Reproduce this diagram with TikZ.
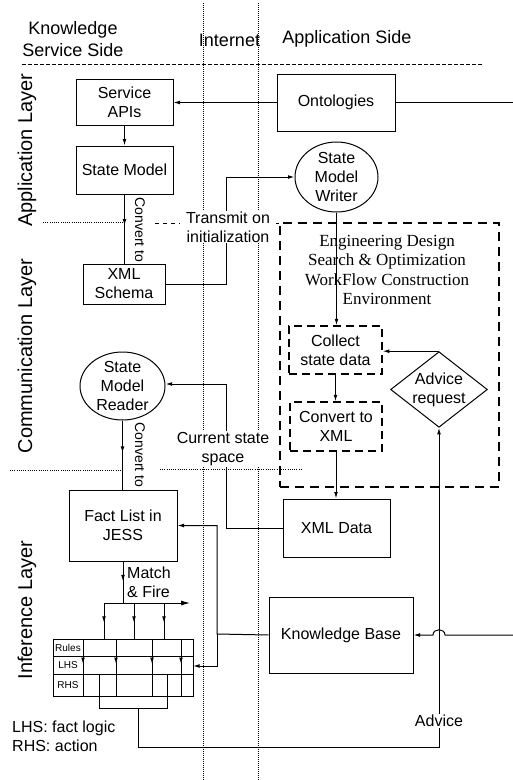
\documentclass[tikz,border=0pt]{standalone}
\usepackage{fontspec}
\setmainfont{Liberation Sans}
\newfontfamily\envserif{Liberation Serif}
\usetikzlibrary{arrows.meta,shapes.geometric,decorations.markings,calc}
\tikzset{
  box/.style={draw, line width=1pt, inner sep=0pt, align=center, font=\fontsize{16}{19}\selectfont},
  dbox/.style={box, line width=1.5pt, dash pattern=on 8pt off 5pt},
  oval/.style={box, ellipse, inner sep=-1.5pt},
  tip/.style={-{Latex[length=6.5pt,width=3.8pt]}},
  arr/.style={line width=1pt, tip},
  conn/.style={line width=1pt},
  midarr/.style={line width=1pt, postaction={decorate}, decoration={markings, mark=at position #1 with {\arrow{Latex[length=6.5pt,width=3.8pt]}}}},
  lbl/.style={inner sep=1pt, align=center, font=\fontsize{16}{19}\selectfont},
  wlbl/.style={lbl, fill=white},
  head/.style={inner sep=0pt, align=center, font=\fontsize{18}{22}\selectfont},
  layer/.style={inner sep=0pt, rotate=90, font=\fontsize{20}{24}\selectfont},
  convlbl/.style={inner sep=0pt, rotate=-90, font=\fontsize{14}{16}\selectfont},
  vdot/.style={line width=0.7pt, dash pattern=on 0.8pt off 1.2pt},
  laydot/.style={line width=0.7pt, dash pattern=on 0.8pt off 1.4pt},
  laydash/.style={line width=0.8pt, dash pattern=on 4pt off 4pt},
  topdash/.style={line width=0.7pt, dash pattern=on 3.5pt off 2.5pt},
  envbox/.style={draw, line width=1.5pt, dash pattern=on 9pt off 6pt, inner sep=0pt},
  tiny/.style={inner sep=0pt, font=\fontsize{10}{12}\selectfont}
}
\begin{document}
\begin{tikzpicture}[x=1pt,y=-1pt]
\useasboundingbox (0,0) rectangle (513,780);

% vertical internet boundaries
\draw[vdot] (203,3) -- (203,780);
\draw[vdot] (258,3) -- (258,780);

% header separator
\draw[topdash] (22,64) -- (482,64);

% headers
\node[head] (ksside) at (73,39) {Knowledge\\Service Side};
\node[head] (inet) at (229.5,40) {Internet};
\node[head] (appside) at (347,39) {Application Side};

% layer labels
\node[layer] (lapp) at (27,150) {Application Layer};
\node[layer] (lcom) at (27,356) {Communication Layer};
\node[layer] (linf) at (27,610) {Inference Layer};

% layer separators
\draw[laydot] (43,222) -- (124,222);
\draw[laydash] (155,223) -- (280,223);
\draw[laydot] (10,470) -- (123,470);
\draw[laydot] (160,469) -- (302,469);

% environment box
\node[envbox, minimum width=219pt, minimum height=264pt] (env) at (389.5,355) {};
\node[inner sep=0pt, align=center, font=\envserif\fontsize{17}{19.3}\selectfont] (envtxt) at (387,270)
  {Engineering Design\\Search \& Optimization\\WorkFlow Construction\\Environment};

% nodes
\node[box, minimum width=97pt, minimum height=46pt] (api) at (124.5,102) {Service\\APIs};
\node[box, minimum width=97pt, minimum height=48pt] (sm) at (124.5,170) {State Model};
\node[box, minimum width=118pt, minimum height=57pt] (onto) at (336,102.5) {Ontologies};
\node[oval, minimum width=83pt, minimum height=70pt] (writer) at (336.5,177) {State\\Model\\Writer};
\node[box, minimum width=82pt, minimum height=40pt] (schema) at (124,284) {XML\\Schema};
\node[oval, minimum width=85pt, minimum height=68pt] (reader) at (122.5,386) {State\\Model\\Reader};
\node[box, minimum width=108pt, minimum height=71pt] (fact) at (123,525.5) {Fact List in\\JESS};
\node[box, minimum width=107pt, minimum height=58pt] (xmldata) at (336.5,528) {XML Data};
\node[box, minimum width=144pt, minimum height=76pt] (kb) at (341,635) {Knowledge Base};
\node[dbox, minimum width=93pt, minimum height=48pt] (collect) at (335.5,350) {Collect\\state data};
\node[dbox, minimum width=92pt, minimum height=49pt] (convert) at (336,426.5) {Convert to\\XML};
\node[box, diamond, aspect=1.28, minimum width=96pt, minimum height=75pt] (adv) at (439,389.5) {Advice\\request};

% coordinates
\coordinate (ontoR) at (513,102.5);
\coordinate (tw) at (226,177);
\coordinate (tr) at (226,384);
\coordinate (kbj) at (217,634);
\coordinate (tabR) at (193,666);
\coordinate (mf) at (123,603);
\coordinate (mfL) at (104,603);
\coordinate (mfR) at (190,603);
\coordinate (kbR) at (513,635);
\coordinate (rhsJ) at (138,708);
\coordinate (advC) at (138,747);

% connectors
\draw[arr] (onto.west) -- (onto.west -| api.east);
\draw[conn] (onto.east) -- (ontoR);
\draw[arr] (api) -- (sm);
\draw[midarr=0.45] (sm.south) -- (sm.south |- schema.north);
\draw[arr] (schema.east) -| (tw) -- (writer.west);
\draw[arr] (writer.south) -- (writer.south |- collect.north);
\draw[arr] (collect.south) -- (collect.south |- convert.north);
\draw[arr] (convert.south) -- (convert.south |- xmldata.north);
\draw[arr] (adv.north) -- (adv.north -| collect.east);
\draw[arr] (xmldata.west) -| (tr) -- (tr -| reader.east);
\draw[midarr=0.47] (reader.south) -- (reader.south |- fact.north);
\draw[arr] (kb.west) -- (kbj) |- (fact.east);
\draw[arr] (kbj) |- (tabR);
\draw[midarr=0.48] (fact.south) -- (mf);
\draw[line width=1pt, -{Latex[length=9pt,width=5pt]}] (mfL) -- (mfR);
\foreach \x in {104,134,164}{
  \draw[midarr=0.55] (\x,603) -- (\x,639);
}
\draw[arr] (kbR) -- (445,635) .. controls (445,628) and (433,628) .. (433,635) -- (kb.east);

% rules table
\draw[conn] (53,639) rectangle (193,696);
\draw[conn] (53,656) -- (193,656);
\draw[conn] (53,674) -- (193,674);
\foreach \x in {83,116,152,181}{
  \draw[conn] (\x,639) -- (\x,696);
  \draw[arr] (\x,656) -- (\x,664);
}
\node[tiny] (rules) at (68,647.5) {Rules};
\node[tiny] (lhs) at (68,665) {LHS};
\node[tiny] (rhs) at (68,685) {RHS};
\draw[conn] (99,674) -- (99,708) -- (167,708) -- (167,674);
\draw[arr] (rhsJ) -- (advC) -| (adv.south);

% labels
\node[convlbl] (conv1) at (140,230) {Convert to};
\node[convlbl] (conv2) at (140,455) {Convert to};
\node[wlbl, minimum width=96pt] (transmit) at (228,227) {Transmit on\\initialization};
\node[wlbl, minimum width=96pt] (curstate) at (223,449) {Current state\\space};
\node[lbl, anchor=west, align=left, inner sep=0pt] (match) at (127,582) {Match\\\& Fire};
\node[wlbl] (advice) at (439,721) {Advice};
\node[lbl, anchor=west, align=left, inner sep=0pt] (legend) at (12,736) {LHS: fact logic\\RHS: action};
\end{tikzpicture}
\end{document}
